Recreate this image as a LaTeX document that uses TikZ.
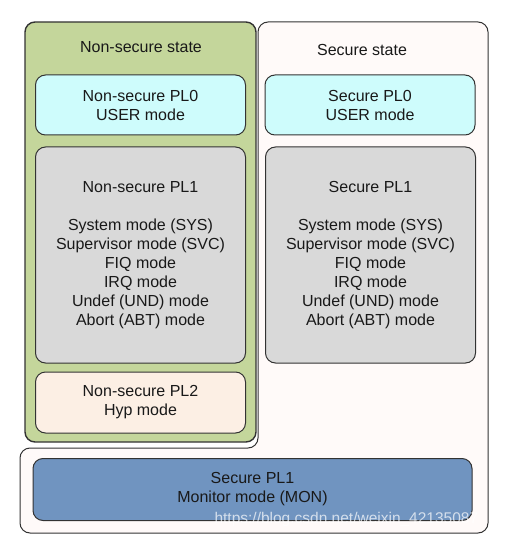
\documentclass[tikz,border=0pt]{standalone}
\usepackage{fontspec}
\setmainfont{Liberation Sans}
\begin{document}
\begin{tikzpicture}[x=1pt,y=-1pt,
  lbl/.style={font=\fontsize{16}{19}\selectfont, text=black!90, align=center},
  modebox/.style={draw=black!80, line width=1pt, rounded corners=10pt, inner sep=0pt, lbl},
  pl0/.style={modebox, fill={rgb,255:red,206;green,252;blue,252}},
  pl1/.style={modebox, fill={rgb,255:red,217;green,217;blue,217}},
  pl2/.style={modebox, fill={rgb,255:red,252;green,239;blue,228}},
  mon/.style={modebox, fill={rgb,255:red,112;green,148;blue,192}},
  wmark/.style={font=\fontsize{15.5}{17}\selectfont, text=white, opacity=0.7}
]
\useasboundingbox (0,0) rectangle (515,545);
% secure L-shaped region
\draw[draw=black!80, line width=1pt, fill={rgb,255:red,255;green,250;blue,249}, rounded corners=10pt]
  (258,22) -- (488,22) -- (488,533) -- (20,533) -- (20,448) -- (258,448) -- cycle;
% non-secure state
\node[draw=black!80, line width=1.4pt, fill={rgb,255:red,196;green,214;blue,155}, rounded corners=10pt,
      minimum width=231pt, minimum height=420pt, inner sep=0pt] (ns) at (140.5,232) {};
\node[lbl] (nstitle) at (141,47) {Non-secure state};
\node[lbl] (stitle) at (362,50) {Secure state};
\node[pl0, minimum width=210pt, minimum height=60pt] (nspl0) at (140.5,105) {Non-secure PL0\\USER mode};
\node[pl1, minimum width=210pt, minimum height=216pt] (nspl1) at (140.5,255)
  {Non-secure PL1\\[19pt]System mode (SYS)\\Supervisor mode (SVC)\\FIQ mode\\IRQ mode\\Undef (UND) mode\\Abort (ABT) mode};
\node[pl2, minimum width=210pt, minimum height=61pt] (nspl2) at (140.5,402.5) {Non-secure PL2\\Hyp mode};
\node[pl0, minimum width=210pt, minimum height=60pt] (spl0) at (370,105) {Secure PL0\\USER mode};
\node[pl1, minimum width=210pt, minimum height=216pt] (spl1) at (370.5,255)
  {Secure PL1\\[19pt]System mode (SYS)\\Supervisor mode (SVC)\\FIQ mode\\IRQ mode\\Undef (UND) mode\\Abort (ABT) mode};
\node[mon, minimum width=439pt, minimum height=62pt] (mon) at (252.5,489.5) {Secure PL1\\Monitor mode (MON)};
\node[wmark, anchor=west] (wm) at (211,519) {https://blog.csdn.net/weixin\_42135087};
\end{tikzpicture}
\end{document}
